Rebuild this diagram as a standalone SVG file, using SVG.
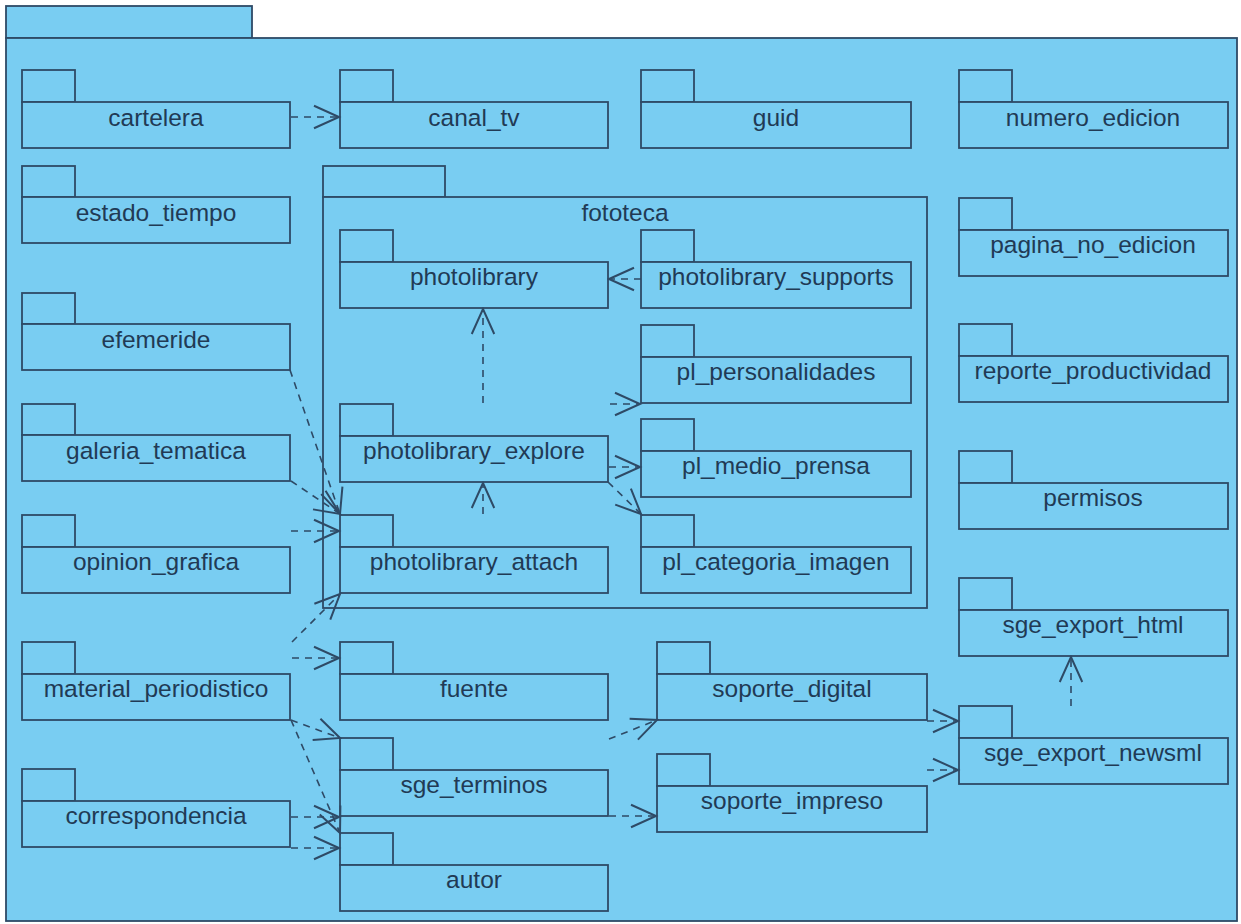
<svg xmlns="http://www.w3.org/2000/svg" width="1241" height="924" viewBox="0 0 1241 924">
<defs>
<style>
.pk{fill:#79CDF2;stroke:#2E4A66;stroke-width:1.8}
.t{font-family:"Liberation Sans",Arial,sans-serif;font-size:24.5px;fill:#213A55;text-anchor:middle}
.c{fill:none;stroke:#2E4A66;stroke-width:1.6;stroke-dasharray:7 6;marker-end:url(#a)}
</style>
<marker id="a" markerUnits="userSpaceOnUse" markerWidth="30" markerHeight="30" viewBox="-22 -12 24 24" refX="0" refY="0" orient="auto">
<path d="M-20,-9 L0,0 L-20,9" fill="none" stroke="#2E4A66" stroke-width="1.6"/>
</marker>
</defs>
<rect width="1241" height="924" fill="#ffffff"/>
<g id="outer">
<rect class="pk" x="6" y="6" width="246" height="32"/>
<rect class="pk" x="6" y="38" width="1231" height="883"/>
</g>
<g id="fototeca">
<rect class="pk" x="323" y="166" width="122" height="31"/>
<rect class="pk" x="323" y="197" width="604" height="411"/>
<text class="t" x="625" y="221">fototeca</text>
</g>
<g id="cartelera"><rect class="pk" x="22" y="70" width="53" height="32"/><rect class="pk" x="22" y="102" width="268" height="46"/><text class="t" x="156" y="126">cartelera</text></g>
<g id="estado_tiempo"><rect class="pk" x="22" y="166" width="53" height="31"/><rect class="pk" x="22" y="197" width="268" height="46"/><text class="t" x="156" y="221">estado_tiempo</text></g>
<g id="efemeride"><rect class="pk" x="22" y="293" width="53" height="31"/><rect class="pk" x="22" y="324" width="268" height="46"/><text class="t" x="156" y="348">efemeride</text></g>
<g id="galeria_tematica"><rect class="pk" x="22" y="404" width="53" height="31"/><rect class="pk" x="22" y="435" width="268" height="46"/><text class="t" x="156" y="459">galeria_tematica</text></g>
<g id="opinion_grafica"><rect class="pk" x="22" y="515" width="53" height="32"/><rect class="pk" x="22" y="547" width="268" height="46"/><text class="t" x="156" y="570">opinion_grafica</text></g>
<g id="material_periodistico"><rect class="pk" x="22" y="642" width="53" height="32"/><rect class="pk" x="22" y="674" width="268" height="46"/><text class="t" x="156" y="697">material_periodistico</text></g>
<g id="correspondencia"><rect class="pk" x="22" y="769" width="53" height="32"/><rect class="pk" x="22" y="801" width="268" height="46"/><text class="t" x="156" y="824">correspondencia</text></g>
<g id="canal_tv"><rect class="pk" x="340" y="70" width="53" height="32"/><rect class="pk" x="340" y="102" width="268" height="46"/><text class="t" x="474" y="126">canal_tv</text></g>
<g id="photolibrary"><rect class="pk" x="340" y="230" width="53" height="32"/><rect class="pk" x="340" y="262" width="268" height="46"/><text class="t" x="474" y="285">photolibrary</text></g>
<g id="photolibrary_explore"><rect class="pk" x="340" y="404" width="53" height="32"/><rect class="pk" x="340" y="436" width="268" height="46"/><text class="t" x="474" y="459">photolibrary_explore</text></g>
<g id="photolibrary_attach"><rect class="pk" x="340" y="515" width="53" height="32"/><rect class="pk" x="340" y="547" width="268" height="46"/><text class="t" x="474" y="570">photolibrary_attach</text></g>
<g id="fuente"><rect class="pk" x="340" y="642" width="53" height="32"/><rect class="pk" x="340" y="674" width="268" height="46"/><text class="t" x="474" y="697">fuente</text></g>
<g id="sge_terminos"><rect class="pk" x="340" y="738" width="53" height="32"/><rect class="pk" x="340" y="770" width="268" height="46"/><text class="t" x="474" y="793">sge_terminos</text></g>
<g id="autor"><rect class="pk" x="340" y="833" width="53" height="32"/><rect class="pk" x="340" y="865" width="268" height="46"/><text class="t" x="474" y="888">autor</text></g>
<g id="guid"><rect class="pk" x="641" y="70" width="53" height="32"/><rect class="pk" x="641" y="102" width="270" height="46"/><text class="t" x="776" y="126">guid</text></g>
<g id="photolibrary_supports"><rect class="pk" x="641" y="230" width="53" height="32"/><rect class="pk" x="641" y="262" width="270" height="46"/><text class="t" x="776" y="285">photolibrary_supports</text></g>
<g id="pl_personalidades"><rect class="pk" x="641" y="325" width="53" height="32"/><rect class="pk" x="641" y="357" width="270" height="46"/><text class="t" x="776" y="380">pl_personalidades</text></g>
<g id="pl_medio_prensa"><rect class="pk" x="641" y="419" width="53" height="32"/><rect class="pk" x="641" y="451" width="270" height="46"/><text class="t" x="776" y="474">pl_medio_prensa</text></g>
<g id="pl_categoria_imagen"><rect class="pk" x="641" y="515" width="53" height="32"/><rect class="pk" x="641" y="547" width="270" height="46"/><text class="t" x="776" y="570">pl_categoria_imagen</text></g>
<g id="soporte_digital"><rect class="pk" x="657" y="642" width="53" height="32"/><rect class="pk" x="657" y="674" width="270" height="46"/><text class="t" x="792" y="697">soporte_digital</text></g>
<g id="soporte_impreso"><rect class="pk" x="657" y="754" width="53" height="32"/><rect class="pk" x="657" y="786" width="270" height="46"/><text class="t" x="792" y="809">soporte_impreso</text></g>
<g id="numero_edicion"><rect class="pk" x="959" y="70" width="53" height="32"/><rect class="pk" x="959" y="102" width="269" height="46"/><text class="t" x="1093" y="126">numero_edicion</text></g>
<g id="pagina_no_edicion"><rect class="pk" x="959" y="198" width="53" height="32"/><rect class="pk" x="959" y="230" width="269" height="46"/><text class="t" x="1093" y="253">pagina_no_edicion</text></g>
<g id="reporte_productividad"><rect class="pk" x="959" y="324" width="53" height="32"/><rect class="pk" x="959" y="356" width="269" height="46"/><text class="t" x="1093" y="379">reporte_productividad</text></g>
<g id="permisos"><rect class="pk" x="959" y="451" width="53" height="32"/><rect class="pk" x="959" y="483" width="269" height="46"/><text class="t" x="1093" y="506">permisos</text></g>
<g id="sge_export_html"><rect class="pk" x="959" y="578" width="53" height="32"/><rect class="pk" x="959" y="610" width="269" height="46"/><text class="t" x="1093" y="633">sge_export_html</text></g>
<g id="sge_export_newsml"><rect class="pk" x="959" y="706" width="53" height="32"/><rect class="pk" x="959" y="738" width="269" height="46"/><text class="t" x="1093" y="761">sge_export_newsml</text></g>
<g id="connectors">
<path class="c" d="M291,117 L339,117"/>
<path class="c" d="M290,370 L340,514"/>
<path class="c" d="M291,481 L340,514"/>
<path class="c" d="M291,531 L339,531"/>
<path class="c" d="M292,642 L340,594"/>
<path class="c" d="M292,658 L339,658"/>
<path class="c" d="M291,720 L340,738"/>
<path class="c" d="M291,720 L340,833"/>
<path class="c" d="M291,817 L339,817"/>
<path class="c" d="M291,848 L339,848"/>
<path class="c" d="M641,279 L609,279"/>
<path class="c" d="M483,403 L483,309"/>
<path class="c" d="M483,514 L483,483"/>
<path class="c" d="M610,404 L640,404"/>
<path class="c" d="M609,467 L640,467"/>
<path class="c" d="M608,482 L641,514"/>
<path class="c" d="M609,739 L657,720"/>
<path class="c" d="M609,816 L656,816"/>
<path class="c" d="M927,721 L958,721"/>
<path class="c" d="M927,770 L958,770"/>
<path class="c" d="M1071,706 L1071,657"/>
</g>
</svg>
